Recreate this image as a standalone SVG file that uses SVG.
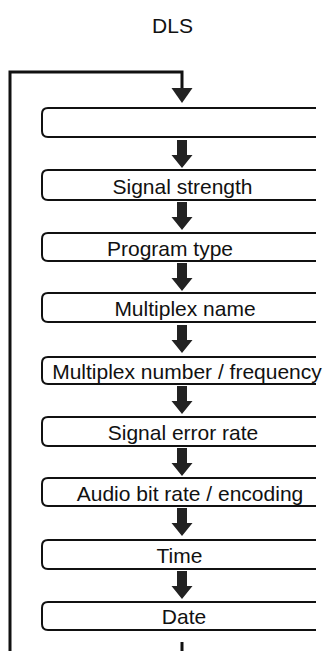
<svg xmlns="http://www.w3.org/2000/svg" width="326" height="651" viewBox="0 0 326 651">
<defs>
<style>
.box{fill:#fff;stroke:#111;stroke-width:2}
.lbl{font-family:"Liberation Sans",Arial,sans-serif;font-size:21px;fill:#111;text-anchor:middle}
.line{fill:none;stroke:#111;stroke-width:3}
.arr{fill:#222}
</style>
<path id="a" class="arr" d="M-5,0 H5 V15 H10.5 L0,28 L-10.5,15 H-5 Z"/>
</defs>
<rect width="326" height="651" fill="#fff"/>
<text x="172.5" y="33" class="lbl">DLS</text>
<g id="connectors">
<path class="line" d="M10,651 V72 H182 V90"/>
<path class="arr" d="M171.5,88 H192.5 L182,103 Z"/>
<use href="#a" x="182" y="140"/>
<use href="#a" x="182" y="202"/>
<use href="#a" x="182" y="263"/>
<use href="#a" x="182" y="325"/>
<use href="#a" x="182" y="386"/>
<use href="#a" x="182" y="448"/>
<use href="#a" x="182" y="508"/>
<use href="#a" x="182" y="571"/>
<path class="line" d="M182,642 V651"/>
</g>
<g id="n0"><path class="box" d="M316,108 H48 Q42,108 42,114 V131 Q42,137 48,137 H316"/></g>
<g id="n1"><path class="box" d="M316,170 H48 Q42,170 42,176 V194 Q42,200 48,200 H316"/><text class="lbl" x="182.5" y="194">Signal strength</text></g>
<g id="n2"><path class="box" d="M316,233 H48 Q42,233 42,239 V255 Q42,261 48,261 H316"/><text class="lbl" x="170" y="256">Program type</text></g>
<g id="n3"><path class="box" d="M316,293 H48 Q42,293 42,299 V316 Q42,322 48,322 H316"/><text class="lbl" x="185" y="316">Multiplex name</text></g>
<g id="n4"><path class="box" d="M316,357 H48 Q42,357 42,363 V378 Q42,384 48,384 H316"/><text class="lbl" x="187" y="379">Multiplex number / frequency</text></g>
<g id="n5"><path class="box" d="M316,417 H48 Q42,417 42,423 V440 Q42,446 48,446 H316"/><text class="lbl" x="183" y="440">Signal error rate</text></g>
<g id="n6"><path class="box" d="M316,478 H48 Q42,478 42,484 V500 Q42,506 48,506 H316"/><text class="lbl" x="190" y="501">Audio bit rate / encoding</text></g>
<g id="n7"><path class="box" d="M316,540 H48 Q42,540 42,546 V563 Q42,569 48,569 H316"/><text class="lbl" x="179.5" y="563">Time</text></g>
<g id="n8"><path class="box" d="M316,602 H48 Q42,602 42,608 V624 Q42,630 48,630 H316"/><text class="lbl" x="184" y="624">Date</text></g>
</svg>
